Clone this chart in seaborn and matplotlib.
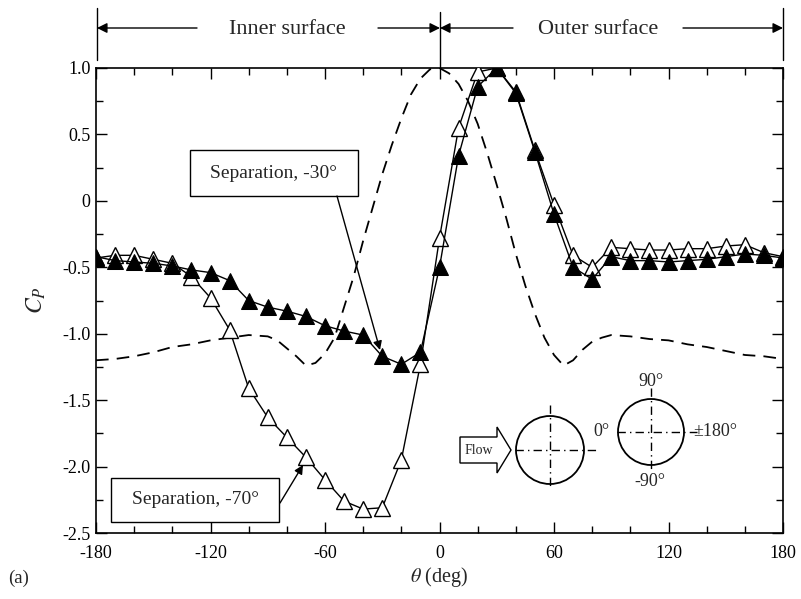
import numpy as np
import pandas as pd
import matplotlib
matplotlib.use("Agg")
import matplotlib.pyplot as plt
import seaborn as sns
from matplotlib.patches import Circle, Polygon, Rectangle
from matplotlib.ticker import MultipleLocator, FuncFormatter

# ---------------- data ----------------
theta = [-180, -170, -160, -150, -140, -130, -120, -110, -100, -90, -80, -70, -60,
         -50, -40, -30, -20, -10, 0, 10, 20, 30, 40, 50, 60, 70, 80, 90, 100, 110,
         120, 130, 140, 150, 160, 170, 180]
cp_sep30 = [-0.42, -0.45, -0.46, -0.47, -0.49, -0.52, -0.54, -0.60, -0.75, -0.80,
            -0.83, -0.87, -0.94, -0.98, -1.01, -1.17, -1.23, -1.14, -0.50, 0.34,
            0.86, 1.00, 0.81, 0.37, -0.10, -0.50, -0.59, -0.42, -0.45, -0.45, -0.46,
            -0.45, -0.44, -0.42, -0.40, -0.41, -0.43]
cp_sep70 = [-0.43, -0.41, -0.41, -0.44, -0.47, -0.57, -0.73, -0.97, -1.41, -1.63,
            -1.78, -1.93, -2.10, -2.26, -2.32, -2.31, -1.95, -1.23, -0.28, 0.55,
            0.97, 1.00, 0.82, 0.38, -0.03, -0.41, -0.50, -0.35, -0.36, -0.37, -0.37,
            -0.36, -0.36, -0.34, -0.33, -0.39, -0.42]
theta_single = [-180, -170, -160, -150, -140, -130, -120, -110, -100, -90, -85, -80,
                -75, -70, -65, -60, -55, -50, -45, -40, -35, -30, -25, -20, -15, -10,
                -5, 0, 5, 10, 15, 20, 25, 30, 35, 40, 45, 50, 55, 60, 65, 70, 75, 80,
                85, 90, 100, 110, 120, 130, 140, 150, 160, 170, 180]
cp_single = [-1.20, -1.19, -1.17, -1.14, -1.10, -1.08, -1.05, -1.03, -1.01, -1.02,
             -1.05, -1.11, -1.17, -1.24, -1.22, -1.15, -1.03, -0.80, -0.57, -0.30,
             -0.05, 0.20, 0.42, 0.62, 0.80, 0.92, 0.99, 1.00, 0.96, 0.88, 0.75, 0.58,
             0.36, 0.12, -0.13, -0.40, -0.64, -0.85, -1.03, -1.16, -1.24, -1.20,
             -1.12, -1.06, -1.03, -1.01, -1.02, -1.04, -1.05, -1.08, -1.10, -1.13,
             -1.16, -1.17, -1.19]
x_ticks = [-180, -120, -60, 0, 60, 120, 180]
y_ticks = [-2.5, -2.0, -1.5, -1.0, -0.5, 0, 0.5, 1.0]

df = pd.DataFrame({"theta": theta, "sep30": cp_sep30, "sep70": cp_sep70})
df_single = pd.DataFrame({"theta": theta_single, "cp": cp_single})

# ---------------- style ----------------
sns.set_style("ticks")
plt.rcParams["font.family"] = ["Liberation Serif", "DejaVu Serif"]
plt.rcParams["mathtext.fontset"] = "stix"
plt.rcParams["axes.unicode_minus"] = False

W, H = 801, 599
fig = plt.figure(figsize=(W / 100, H / 100), dpi=100)
L, R, T, B = 96, 783, 68, 533
ax = fig.add_axes([L / W, 1 - B / H, (R - L) / W, (B - T) / H])

sns.lineplot(data=df_single, x="theta", y="cp", ax=ax, color="black", lw=1.3,
             dashes=False, linestyle=(0, (7, 4.5)), zorder=2)
sns.lineplot(data=df, x="theta", y="sep70", ax=ax, color="black", lw=1.0,
             marker="^", markersize=11, markerfacecolor="white",
             markeredgecolor="black", markeredgewidth=1.0, zorder=3)
sns.lineplot(data=df, x="theta", y="sep30", ax=ax, color="black", lw=1.0,
             marker="^", markersize=11, markerfacecolor="black",
             markeredgecolor="black", zorder=4)

ax.set_xlim(-180, 180)
ax.set_ylim(-2.5, 1.0)
ax.set_xticks(x_ticks)
ax.set_yticks(y_ticks)
ax.xaxis.set_minor_locator(MultipleLocator(20))
ax.yaxis.set_minor_locator(MultipleLocator(0.25))
ax.yaxis.set_major_formatter(FuncFormatter(lambda v, p: "0" if abs(v) < 1e-9 else f"{v:.1f}"))
ax.xaxis.set_major_formatter(FuncFormatter(lambda v, p: f"{int(round(v))}"))
ax.tick_params(which="both", direction="in", top=True, right=True, width=1.0,
               labelsize=13, colors="black")
ax.tick_params(which="major", length=8)
ax.tick_params(axis="x", which="major", pad=9)
ax.tick_params(axis="y", which="major", pad=4)
ax.tick_params(which="minor", length=5)
for s in ax.spines.values():
    s.set_linewidth(1.2)
    s.set_color("black")
ax.set_xlabel(r"$\theta$ (deg)", fontsize=14.5, labelpad=2)
ax.set_ylabel(r"$C_P$", fontsize=17, labelpad=10)

# ---------------- overlay (pixel coordinates) ----------------
ov = fig.add_axes([0, 0, 1, 1], zorder=10)
ov.set_xlim(0, W)
ov.set_ylim(H, 0)
ov.axis("off")
ov.patch.set_alpha(0)

# top surface markers
for xv, y0, y1 in [(97, 8, 60), (440, 12, 68), (783, 8, 60)]:
    ov.plot([xv, xv], [y0, y1], color="black", lw=1.0)
arr = dict(arrowstyle="-|>", color="black", lw=1.0, mutation_scale=15,
           shrinkA=0, shrinkB=0)
ay = 28
ov.annotate("", xy=(97, ay), xytext=(197, ay), arrowprops=arr)
ov.annotate("", xy=(440, ay), xytext=(378, ay), arrowprops=arr)
ov.annotate("", xy=(440, ay), xytext=(513, ay), arrowprops=arr)
ov.annotate("", xy=(783, ay), xytext=(683, ay), arrowprops=arr)
ov.text(287, ay + 1, "Inner surface", ha="center", va="center", fontsize=16)
ov.text(598, ay + 1, "Outer surface", ha="center", va="center", fontsize=16)

# annotation boxes
arr2 = dict(arrowstyle="-|>", color="black", lw=1.0, mutation_scale=13,
            shrinkA=0, shrinkB=0)
ov.add_patch(Rectangle((190, 150), 168, 46, fill=True, facecolor="white",
                       edgecolor="black", lw=1.0))
ov.text(274, 173, "Separation, -30°", ha="center", va="center", fontsize=14)
ov.annotate("", xy=(380, 350), xytext=(337, 196), arrowprops=arr2)
ov.add_patch(Rectangle((111, 478), 168, 44, fill=True, facecolor="white",
                       edgecolor="black", lw=1.0))
ov.text(195, 500, "Separation, -70°", ha="center", va="center", fontsize=14)
ov.annotate("", xy=(303, 465), xytext=(280, 503), arrowprops=arr2)

# inset: flow arrow and cylinders
ov.add_patch(Polygon([(460, 437), (497, 437), (497, 427), (511, 450), (497, 473),
                      (497, 463), (460, 463)], closed=True, facecolor="white",
                     edgecolor="black", lw=1.0))
ov.text(479, 450, "Flow", ha="center", va="center", fontsize=10)
dd = (0, (6, 3, 1, 3))
ov.add_patch(Circle((550, 450), 34, fill=False, edgecolor="black", lw=1.3))
ov.plot([515, 597], [450, 450], color="black", lw=1.0, linestyle=dd)
ov.plot([550, 550], [405, 488], color="black", lw=1.0, linestyle=dd)
ov.add_patch(Circle((651, 432), 33, fill=False, edgecolor="black", lw=1.3))
ov.plot([617, 697], [432, 432], color="black", lw=1.0, linestyle=dd)
ov.plot([651, 651], [388, 470], color="black", lw=1.0, linestyle=dd)
ov.text(593, 431, "0°", ha="left", va="center", fontsize=13)
ov.text(693, 431, "±180°", ha="left", va="center", fontsize=13)
ov.text(651, 381, "90°", ha="center", va="center", fontsize=13)
ov.text(650, 481, "-90°", ha="center", va="center", fontsize=13)

ov.text(8, 578, "(a)", ha="left", va="center", fontsize=13.5)

fig.savefig("out.png", dpi=100)
